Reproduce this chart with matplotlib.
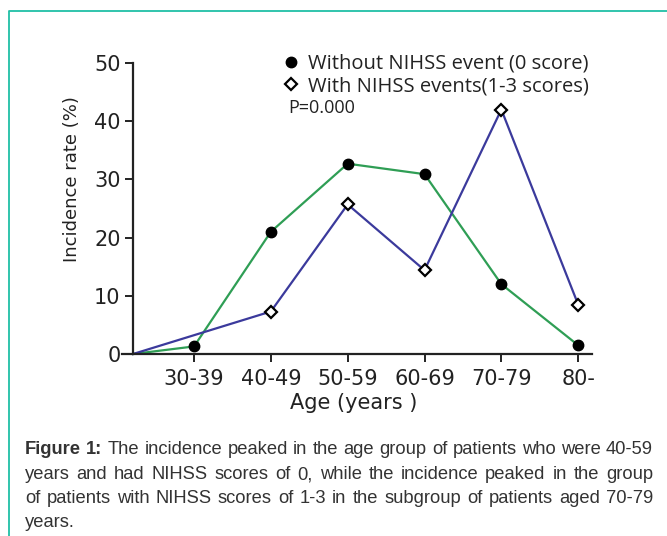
import matplotlib
matplotlib.use("Agg")
import matplotlib.pyplot as plt
from matplotlib.lines import Line2D

# ---------------- data ----------------
categories = ["30-39", "40-49", "50-59", "60-69", "70-79", "80-"]
start_value = 0.0
without_event = [1.3, 21.0, 32.7, 30.9, 12.0, 1.5]
with_event_cats = ["40-49", "50-59", "60-69", "70-79", "80-"]
with_event = [7.3, 25.7, 14.4, 42.0, 8.5]
yticks = [0, 10, 20, 30, 40, 50]
legend_labels = ["Without NIHSS event (0 score)", "With NIHSS events(1-3 scores)"]
p_text = "P=0.000"
caption_lines = [
    "Figure 1: The incidence peaked in the age group of patients who were 40-59",
    "years and had NIHSS scores of 0, while the incidence peaked in the group",
    "of patients with NIHSS scores of 1-3 in the subgroup of patients aged 70-79",
    "years.",
]

# ---------------- layout ----------------
W, H = 667, 536
fig = plt.figure(figsize=(W / 100, H / 100), dpi=100)
fig.patch.set_facecolor("white")

def fx(px):
    return px / W

def fy(py):
    return 1 - py / H

ax_left, ax_right, ax_bottom, ax_top = 122, 592, 354, 63
ax = fig.add_axes([fx(ax_left), fy(ax_bottom), fx(ax_right - ax_left), (ax_bottom - ax_top) / H])

origin_x = 0.206
xpos = {c: i + 1 for i, c in enumerate(categories)}

green = "#2f9e55"
blue = "#3b3a9c"

x_without = [origin_x] + [xpos[c] for c in categories]
y_without = [start_value] + without_event
x_with = [origin_x] + [xpos[c] for c in with_event_cats]
y_with = [start_value] + with_event

ax.plot(x_without, y_without, color=green, lw=1.6, zorder=2, clip_on=False)
ax.plot(x_with, y_with, color=blue, lw=1.6, zorder=2, clip_on=False)
ax.plot(x_without[1:], y_without[1:], ls="none", marker="o", ms=7.5,
        mfc="black", mec="black", zorder=4, clip_on=False)
ax.plot(x_with[1:], y_with[1:], ls="none", marker="D", ms=6,
        mfc="white", mec="black", mew=1.6, zorder=4, clip_on=False)

ax.set_xlim(0.0625, 6.18)
ax.set_ylim(0, 50)

for s in ["top", "right"]:
    ax.spines[s].set_visible(False)
ax.spines["left"].set_position(("data", origin_x))
ax.spines["left"].set_bounds(0, 50)
ax.spines["left"].set_linewidth(1.6)
ax.spines["bottom"].set_linewidth(1.6)
ax.spines["left"].set_color("#222222")
ax.spines["bottom"].set_color("#222222")

ax.set_xticks([xpos[c] for c in categories])
ax.set_xticklabels(categories)
ax.set_yticks(yticks)
ax.set_yticklabels([str(v) for v in yticks])
ax.tick_params(axis="both", direction="out", length=6, width=1.4, colors="#222222",
               labelsize=15, labelcolor="#222222")
ax.tick_params(axis="x", pad=5)
ax.tick_params(axis="y", pad=3)
ax.patch.set_alpha(0)

fig.text(fx(72), fy(179), "Incidence rate (%)", rotation=90, ha="center", va="center",
         fontsize=13, color="#222222")
fig.text(fx(354), fy(403), "Age (years )", ha="center", va="center",
         fontsize=15, color="#222222")

# legend
handles = [
    Line2D([], [], ls="none", marker="o", ms=7.5, mfc="black", mec="black"),
    Line2D([], [], ls="none", marker="D", ms=6, mfc="white", mec="black", mew=1.6),
]
leg = fig.legend(handles, legend_labels, loc="upper left", bbox_to_anchor=(fx(284), fy(54)),
                 frameon=False, handlelength=0.7, handletextpad=0.5, borderpad=0,
                 borderaxespad=0, labelspacing=0.1,
                 prop={"family": "Open Sans", "size": 14.5})
for t in leg.get_texts():
    t.set_color("#222222")
fig.text(fx(288), fy(108), p_text, ha="left", va="center", fontsize=13,
         family="Open Sans", color="#222222")

# border
fig.add_artist(Line2D([fx(9), fx(9), fx(W + 5)], [fy(H + 5), fy(11), fy(11)],
                      color="#20bfa6", lw=1.3, transform=fig.transFigure))

# caption (justified)
renderer = fig.canvas.get_renderer()
cap_left, cap_right = 25, 653
cap_size = 13.2
baselines = [454, 479, 503, 527]
for li, (line, base) in enumerate(zip(caption_lines, baselines)):
    words = line.split(" ")
    texts = []
    for wi, w in enumerate(words):
        bold = li == 0 and wi < 2
        t = fig.text(0, fy(base), w, fontsize=cap_size, family="Liberation Sans",
                     fontweight="bold" if bold else "normal", color="#333333",
                     va="baseline", ha="left")
        texts.append(t)
    widths = [t.get_window_extent(renderer).width for t in texts]
    last = li == len(caption_lines) - 1
    if last or len(words) == 1:
        gap = 5
    else:
        gap = (cap_right - cap_left - sum(widths)) / (len(words) - 1)
    x = cap_left
    for t, w in zip(texts, widths):
        t.set_x(fx(x))
        x += w + gap

fig.savefig("out.png", dpi=100, facecolor="white")
